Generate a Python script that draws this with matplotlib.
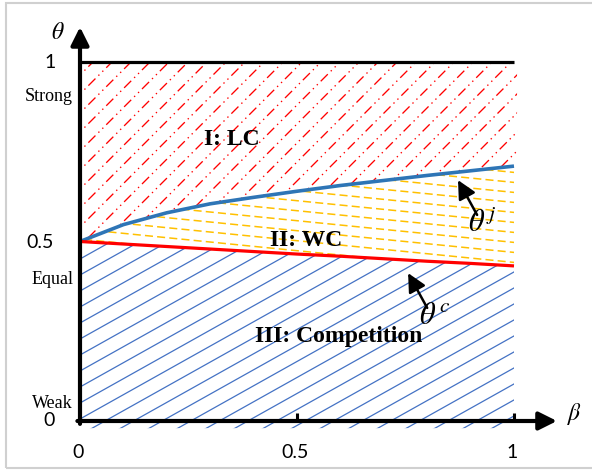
import numpy as np
import matplotlib
matplotlib.use('Agg')
import matplotlib.pyplot as plt
from matplotlib.patches import Polygon, Rectangle

plt.rcParams['mathtext.fontset'] = 'stix'
plt.rcParams['lines.scale_dashes'] = False

# boundary curves theta^j (upper) and theta^c (lower) over beta
beta = [0, 0.1, 0.2, 0.3, 0.4, 0.5, 0.6, 0.7, 0.8, 0.9, 1.0]
theta_j = [0.5, 0.547, 0.580, 0.605, 0.623, 0.640, 0.656, 0.670, 0.684, 0.697, 0.710]
theta_c = [0.5, 0.493, 0.486, 0.479, 0.472, 0.465, 0.459, 0.452, 0.445, 0.439, 0.432]

x_ticks = [0, 0.5, 1]
x_ticklabels = ['0', '0.5', '1']
y_ticks = [0, 0.5, 1]
y_ticklabels = ['0', '0.5', '1']
y_words = ['Weak', 'Equal', 'Strong']
y_word_pos = [0.05, 0.393, 0.905]

W, H = 592, 470
PX_X, PX_Y = 434.0, 359.0   # pixels per unit on each axis
X0, Y0 = 80.0, 49.0         # pixel position of the origin (from bottom-left)

fig = plt.figure(figsize=(W / 100, H / 100), dpi=100)
ax = fig.add_axes([0, 0, 1, 1])
ax.set_xlim(-X0 / PX_X, (W - X0) / PX_X)
ax.set_ylim(-Y0 / PX_Y, (H - Y0) / PX_Y)
ax.axis('off')

# light frame around the figure
fig.patches.append(Rectangle((6 / W, 2 / H), 1.0, (H - 5) / H, transform=fig.transFigure,
                             fill=False, edgecolor='#d0d0d0', lw=1.5))


def hatch(verts, slope_px, step_px, color, lw, ls):
    patch = Polygon(verts, closed=True, fill=False, edgecolor='none')
    ax.add_patch(patch)
    m = slope_px * PX_X / PX_Y
    step = step_px / PX_Y
    xs = np.array([-0.2, 1.2])
    for c in np.arange(-2.0, 2.5, step):
        ln, = ax.plot(xs, m * xs + c, color=color, lw=lw, linestyle=ls, zorder=1)
        ln.set_clip_path(patch)


bj = list(zip(beta, theta_j))
bc = list(zip(beta, theta_c))

# I: LC region (above theta^j)
hatch([(0, 1.0), (1.007, 1.0), (1.007, theta_j[-1])] + bj[::-1],
      1.0, 19, '#ff0000', 0.95, (0, (7.2, 3.0, 1.0, 3.0, 1.0, 3.0)))
# II: WC region (between the curves)
hatch(bj + bc[::-1], -0.1, 10, '#ffc000', 1.1, (0, (5.8, 3.0)))
# III: competition region (below theta^c)
hatch(bc + [(1.0, -0.02), (0, -0.02)], 0.56, 16, '#4472c4', 0.9, '-')

ax.plot(beta, theta_j, color='#2e75b6', lw=2.6, zorder=3, solid_capstyle='butt')
ax.plot(beta, theta_c, color='#ff0000', lw=2.3, zorder=3, solid_capstyle='butt')

# axes with arrow heads
arrow = dict(arrowstyle='-|>,head_length=0.6,head_width=0.3', mutation_scale=18,
             lw=3, color='k', shrinkA=0, shrinkB=0)
ax.annotate('', xy=(0, 1.0975), xytext=(0, -0.008), arrowprops=arrow, zorder=4)
ax.annotate('', xy=(1.099, 0), xytext=(-0.006, 0), arrowprops=arrow, zorder=4)
ax.plot([0, 1], [1, 1], color='k', lw=2.3, zorder=4, solid_capstyle='butt')
for t in x_ticks[1:]:
    ax.plot([t, t], [0, 0.022], color='k', lw=2.2, zorder=4, solid_capstyle='butt')

ax.text(-0.0507, 1.0836, r'$\theta$', fontsize=17, ha='center', va='center')
ax.text(1.1406, 0.0195, r'$\beta$', fontsize=17, ha='center', va='center')

num_font = dict(family='Lato', fontsize=14)
for t, lab in zip(x_ticks, x_ticklabels):
    ax.text(t - 0.004, -0.087, lab, ha='center', va='center', **num_font)
ax.text(-0.092, 0.496, y_ticklabels[1], ha='center', va='center', **num_font)
ax.text(-0.069, 1.0, y_ticklabels[2], ha='center', va='center', **num_font)
ax.text(-0.0714, 0.0, y_ticklabels[0], ha='center', va='center', **num_font)
for w, p in zip(y_words, y_word_pos):
    ax.text(-0.016, p, w, ha='right', va='center', family='Liberation Serif', fontsize=13)

bold = dict(family='Liberation Serif', fontweight='bold', fontsize=17, ha='center', va='center')
ax.text(0.350, 0.783, 'I: LC', **bold)
ax.text(0.521, 0.504, 'II: WC', **bold)
ax.text(0.597, 0.234, 'III: Competition', **bold)

pointer = dict(arrowstyle='-|>,head_length=0.8,head_width=0.4', mutation_scale=14,
               lw=1.8, color='k', shrinkA=0, shrinkB=0)
ax.annotate('', xy=(0.871, 0.671), xytext=(0.915, 0.574), arrowprops=pointer, zorder=5)
ax.annotate('', xy=(0.756, 0.412), xytext=(0.800, 0.315), arrowprops=pointer, zorder=5)
ax.text(0.928, 0.552, r'$\theta^{\,j}$', fontsize=22, ha='center', va='center', zorder=5)
ax.text(0.818, 0.295, r'$\theta^{\,c}$', fontsize=22, ha='center', va='center', zorder=5)

fig.savefig('out.png', dpi=100)
